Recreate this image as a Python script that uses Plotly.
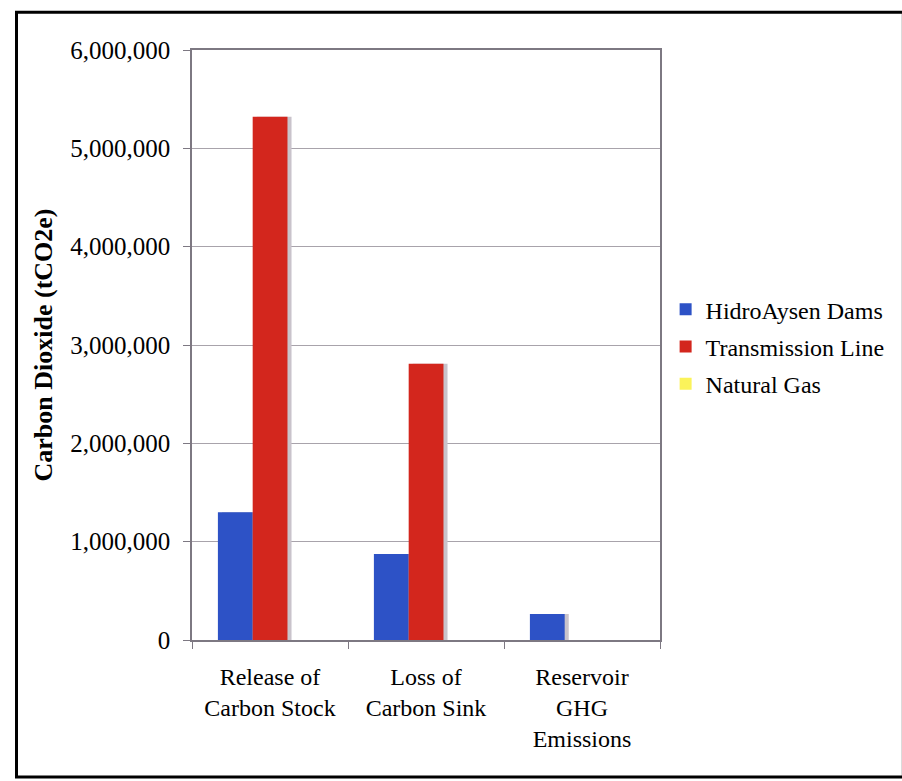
import plotly.graph_objects as go

# Emission sources and their CO2-equivalent totals (tCO2e)
categories = ["Release of<br>Carbon Stock", "Loss of<br>Carbon Sink", "Reservoir<br>GHG<br>Emissions"]
hidroaysen_dams = [1300000, 875000, 265000]
transmission_line = [5320000, 2810000, 0]
natural_gas = [0, 0, 0]

series_names = ["HidroAysen Dams", "Transmission Line", "Natural Gas"]
series_values = [hidroaysen_dams, transmission_line, natural_gas]
series_colors = ["#2d52c6", "#d3261d", "#fbf35a"]

y_ticks = [0, 1000000, 2000000, 3000000, 4000000, 5000000, 6000000]

FONT = "Liberation Serif"
BAR_W = 0.223
OFFSETS = [-0.334, -0.111, 0.112]
SHADOW_SHIFT = 0.026

fig = go.Figure()

# soft drop shadows behind each bar
for vals, off in zip(series_values, OFFSETS):
    fig.add_trace(go.Bar(
        x=categories, y=vals, width=BAR_W, offset=off + SHADOW_SHIFT,
        marker=dict(color="#c9c3cb", line=dict(width=0)),
        showlegend=False, hoverinfo="skip",
    ))

for name, vals, color, off in zip(series_names, series_values, series_colors, OFFSETS):
    fig.add_trace(go.Bar(
        x=categories, y=vals, name=name, width=BAR_W, offset=off,
        marker=dict(color=color, line=dict(width=0)),
        legendgroup=name,
    ))

# outer frame around the whole chart
fig.add_shape(type="rect", xref="paper", yref="paper",
              x0=-0.375, x1=1.52, y0=-0.232, y1=1.064,
              line=dict(color="black", width=3), fillcolor="rgba(0,0,0,0)", layer="above")

fig.update_layout(
    width=902, height=781,
    margin=dict(l=192, r=238, t=50, b=141),
    barmode="overlay",
    plot_bgcolor="white", paper_bgcolor="white",
    font=dict(family=FONT, size=24, color="black"),
    legend=dict(
        x=1.012, xanchor="left", y=0.497, yanchor="middle",
        font=dict(family=FONT, size=24, color="black"),
        tracegroupgap=3, traceorder="grouped",
        bgcolor="rgba(0,0,0,0)", itemwidth=30,
    ),
    xaxis=dict(
        type="category", showgrid=False,
        showline=True, linecolor="#7d7882", linewidth=1.5, mirror=True,
        ticks="outside", tickson="boundaries", ticklen=7, tickcolor="#7d7882",
        tickfont=dict(family=FONT, size=24, color="black"),
        ticklabelstandoff=14,
    ),
    yaxis=dict(
        range=[0, 6000000], tickvals=y_ticks, tickformat=",d",
        showgrid=True, gridcolor="#a8a3ab", gridwidth=1,
        showline=True, linecolor="#7d7882", linewidth=1.5, mirror=True,
        ticks="outside", ticklen=7, tickcolor="#7d7882",
        tickfont=dict(family=FONT, size=25, color="black"),
        ticklabelstandoff=8,
        title=dict(text="<b>Carbon Dioxide (tCO2e)</b>", font=dict(family=FONT, size=26, color="black"), standoff=10),
        zeroline=False,
    ),
)

fig.write_html("out.html")
